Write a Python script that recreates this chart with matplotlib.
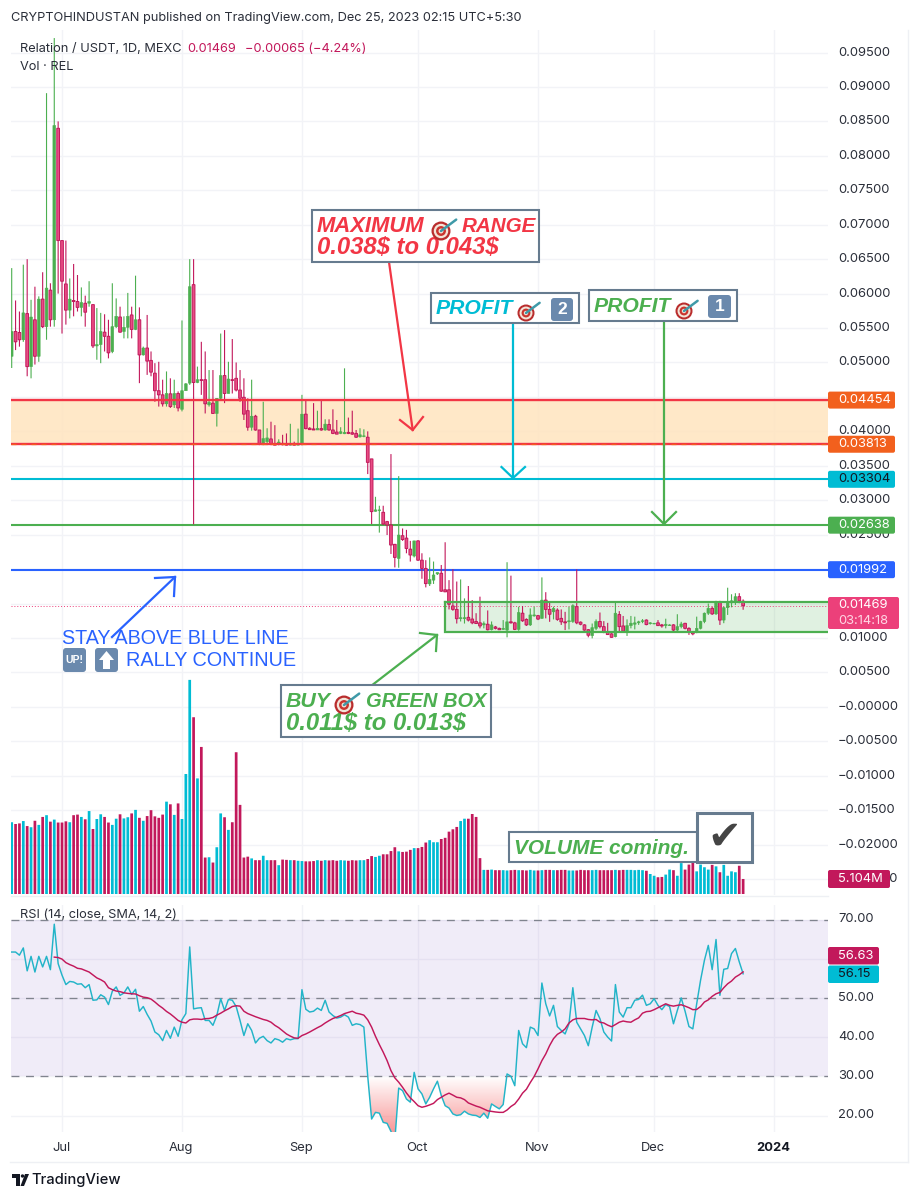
import numpy as np
import matplotlib
matplotlib.use("Agg")
import matplotlib.pyplot as plt
from matplotlib.patches import Rectangle, FancyBboxPatch, Circle, Polygon, PathPatch
from matplotlib.path import Path

# ---------- data (prices in thousandths of a USDT, index 0 = 18 Jun 2023) ----------
opens = [50.9,54.5,54.35,53.3,57.1,49.4,56.2,50.9,59.2,55.2,
 60.5,56.2,84.0,67.7,61.4,57.6,59.0,58.85,58.0,58.6,
 58.6,58.4,52.4,52.6,54.4,53.8,51.6,55.2,56.6,54.5,
 55.1,56.9,54.8,56.2,51.1,52.1,50.3,48.45,45.9,45.3,
 44.0,45.45,43.85,45.5,43.2,45.9,47.0,61.3,47.1,47.5,
 47.5,43.85,44.1,42.6,44.8,48.1,45.5,47.5,47.7,46.0,
 44.95,43.0,40.6,42.2,40.2,38.2,38.5,38.9,38.2,38.07,
 38.25,38.17,38.0,38.17,38.0,38.1,42.5,40.45,40.35,40.2,
 40.4,40.2,41.0,40.2,39.9,39.7,39.65,39.85,39.8,39.7,
 39.2,39.25,39.15,36.0,28.4,28.5,28.25,26.9,26.4,23.6,
 21.55,24.85,24.5,22.9,21.9,24.1,21.3,20.1,17.85,18.4,
 19.3,19.4,17.0,17.0,14.65,14.15,12.8,12.8,13.0,12.75,
 12.4,12.2,11.9,12.0,11.2,11.6,11.4,11.25,11.15,12.35,
 12.2,11.25,13.6,12.7,11.9,13.2,13.25,12.85,15.5,14.15,
 13.8,14.05,12.85,12.35,12.35,12.4,14.55,12.3,11.9,11.2,
 10.35,11.4,12.4,11.65,10.8,10.6,10.2,13.4,11.75,11.0,
 11.8,12.0,12.2,12.4,12.6,12.08,12.04,12.2,11.9,11.8,
 11.8,11.9,11.15,11.65,12.13,11.4,10.8,10.8,11.4,12.4,
 13.6,14.3,13.5,15.3,12.6,14.4,15.1,15.3,16.0,15.34]
highs = [63.7,59.0,57.4,64.2,65.0,59.1,61.0,59.6,63.1,89.1,
 61.5,97.1,85.0,67.7,67.7,62.2,64.3,62.7,60.9,59.7,
 61.8,58.4,57.9,57.2,57.0,56.2,61.5,59.3,58.1,56.7,
 60.1,58.1,62.6,58.0,52.3,56.9,51.6,49.9,50.1,47.5,
 48.7,47.7,47.5,45.8,56.1,47.0,65.0,65.0,49.4,53.0,
 51.6,48.9,48.9,44.8,54.2,54.7,50.1,53.4,50.0,48.9,
 47.7,44.8,47.5,42.4,40.2,44.3,40.45,41.4,40.9,38.85,
 39.5,39.7,41.1,38.5,40.4,45.3,44.6,40.6,44.1,43.0,
 44.6,41.75,41.75,43.2,41.65,40.6,49.15,42.0,43.0,40.2,
 40.45,40.3,40.0,36.0,30.5,29.2,29.2,27.0,36.7,23.65,
 33.5,25.9,25.7,24.1,24.1,24.2,22.3,21.3,21.7,21.1,
 19.5,20.6,23.9,18.4,20.0,18.2,18.5,15.75,17.55,15.5,
 13.6,16.0,12.4,14.0,12.4,11.75,11.5,12.6,21.0,19.05,
 12.35,14.55,14.65,12.85,14.3,14.55,13.35,18.8,16.65,15.25,
 14.55,14.3,14.15,13.8,14.55,14.9,19.97,12.4,12.0,11.3,
 12.1,12.7,13.7,12.45,12.2,10.7,15.1,13.9,13.2,12.7,
 13.2,13.1,12.5,12.75,12.7,12.3,12.2,12.6,12.04,12.8,
 12.0,12.0,13.45,12.35,12.2,11.55,10.9,13.1,12.5,13.7,
 15.0,14.55,15.4,15.4,14.55,17.3,16.35,16.5,16.5,15.6]
lows = [49.2,51.8,52.3,53.0,48.0,47.7,49.7,50.1,55.0,53.3,
 55.2,55.2,60.0,54.2,55.5,56.4,56.7,57.4,56.7,55.2,
 58.1,52.1,50.4,49.9,51.6,50.6,51.35,55.0,54.35,53.5,
 53.5,53.5,54.7,47.0,51.0,48.2,48.0,44.3,43.6,43.6,
 43.6,43.4,43.4,42.9,42.9,45.9,46.75,26.5,47.0,45.3,
 42.6,43.6,42.6,40.7,44.6,44.1,45.5,45.5,45.8,44.3,
 41.65,40.1,40.1,40.1,38.0,38.0,38.0,38.0,38.0,37.97,
 37.97,37.97,37.97,37.97,37.97,37.97,40.3,40.2,40.2,40.2,
 40.1,40.1,40.1,39.6,39.6,39.6,39.6,39.6,39.5,39.05,
 39.1,39.15,33.8,26.55,28.35,25.3,26.4,24.95,22.2,20.25,
 20.2,24.1,22.3,21.1,21.7,21.2,18.6,17.35,17.55,17.85,
 19.15,16.7,16.7,14.15,13.95,12.1,12.4,12.1,12.4,12.0,
 12.1,11.4,11.4,11.1,11.1,11.25,11.2,11.2,10.1,12.1,
 11.15,11.05,12.35,11.75,11.75,13.1,12.6,12.8,12.85,12.35,
 12.7,12.5,11.9,11.15,11.25,12.2,12.0,11.85,11.05,10.1,
 9.95,11.15,11.4,10.7,10.45,10.05,10.1,10.9,10.9,10.3,
 11.4,11.25,11.9,12.15,11.85,11.95,12.0,11.75,11.5,11.4,
 11.75,11.0,11.0,11.4,11.25,10.45,10.4,10.7,11.25,12.15,
 13.35,13.35,13.35,11.9,12.15,13.35,14.45,14.8,15.05,14.1]
closes = [54.5,53.0,53.3,57.2,49.4,56.6,50.9,59.2,55.2,60.8,
 56.2,84.4,67.7,61.8,57.6,59.2,58.85,58.0,58.7,57.3,
 58.85,52.4,52.6,54.5,53.8,51.4,55.2,56.7,54.4,55.1,
 56.7,54.8,56.2,51.1,52.1,50.2,48.6,45.9,45.3,44.0,
 45.5,43.6,45.5,43.4,45.9,46.9,61.0,47.1,47.5,47.4,
 44.0,44.2,42.6,44.8,48.1,45.5,47.6,47.4,46.0,44.8,
 42.5,40.6,42.2,40.2,38.1,38.95,39.05,38.1,38.0,38.45,
 38.07,38.0,38.1,38.0,38.17,42.5,40.4,40.25,40.2,40.45,
 40.2,41.05,40.2,39.7,39.6,39.95,39.85,39.7,39.6,39.15,
 39.5,39.35,35.5,28.35,28.6,28.6,26.55,26.4,23.5,21.7,
 24.95,24.3,23.0,22.05,24.1,21.3,20.1,17.9,18.5,19.15,
 19.5,16.8,16.7,14.9,14.15,12.8,12.95,12.95,12.6,12.2,
 12.1,11.75,12.1,11.2,11.9,11.4,11.2,11.4,12.35,12.2,
 11.25,13.7,12.5,11.9,13.35,13.35,12.75,15.5,14.15,13.45,
 14.3,12.7,12.35,12.2,12.5,14.7,12.2,12.0,11.15,10.4,
 11.5,12.4,11.65,10.8,10.5,10.1,13.6,11.65,11.0,11.8,
 12.15,12.2,12.35,12.5,11.95,12.2,12.13,11.8,11.75,12.0,
 11.9,11.15,11.65,12.04,11.4,10.8,10.6,11.4,12.4,13.6,
 14.3,13.5,15.3,12.6,14.4,15.3,15.4,16.0,15.4,14.69]
volume_m = [24.4,23.8,24.0,24.8,23.1,22.7,24.9,23.5,26.2,26.8,
 24.6,25.3,24.3,24.3,24.7,24.4,26.8,27.0,26.2,25.4,
 28.2,22.1,25.5,27.1,26.2,24.3,23.5,25.6,27.1,25.7,
 26.1,27.4,28.6,25.9,24.9,26.5,28.5,26.4,25.9,27.0,
 31.4,30.5,26.9,30.8,25.5,40.8,72.8,60.1,39.3,50.0,
 12.4,12.5,10.7,15.9,27.4,26.1,21.8,24.4,48.2,30.3,
 12.4,12.7,12.1,11.5,11.5,13.0,11.5,11.5,11.5,9.8,
 11.7,11.6,11.5,11.5,11.3,11.2,11.1,11.1,11.2,11.5,
 11.3,11.5,11.4,11.5,11.3,11.5,11.4,11.3,11.5,11.4,
 11.5,11.5,11.9,12.9,12.6,13.0,13.5,13.5,14.6,15.9,
 14.5,14.3,14.4,15.0,15.6,15.6,16.0,17.5,18.3,17.6,
 17.6,18.7,19.1,21.2,22.0,22.8,24.8,25.6,25.6,27.2,
 26.2,12.2,8.2,8.2,8.3,8.1,8.1,8.1,8.0,8.1,
 8.2,8.1,8.1,8.0,8.2,8.0,8.0,8.1,8.2,8.2,
 8.1,8.1,8.2,8.2,8.0,8.0,8.0,8.2,8.1,8.1,
 8.1,8.2,8.1,8.1,8.1,8.1,8.2,8.1,8.2,8.2,
 8.2,8.1,8.2,8.1,7.9,6.8,6.2,5.7,5.8,6.6,
 8.3,8.1,6.2,10.5,8.3,10.0,10.8,7.7,10.0,9.1,
 8.3,9.9,9.4,7.4,9.9,6.2,7.7,7.4,9.6,5.104]
rsi = [61.7,61.7,60.9,62.75,56.9,60.6,56.6,60.6,57.9,60.6,
 57.2,68.8,58.75,55.8,53.4,54.2,54.05,53.5,53.6,52.6,
 53.4,49.4,49.5,50.8,50.2,48.3,51.7,52.8,50.65,51.25,
 52.8,50.9,52.2,46.6,47.8,45.8,44.1,41.3,40.6,39.1,
 41.7,39.7,42.55,40.2,44.4,46.0,63.0,47.2,47.4,47.5,
 44.25,44.25,43.0,45.5,49.8,46.8,49.6,49.4,47.8,44.25,
 40.4,43.4,41.7,38.5,39.7,40.2,39.1,38.5,39.6,39.3,
 38.7,39.6,39.3,39.6,39.6,52.1,47.1,46.4,46.6,47.4,
 46.8,49.4,46.4,45.5,44.85,45.1,45.7,45.1,43.0,43.4,
 43.2,42.55,30.0,19.1,20.8,20.6,18.25,18.0,15.95,13.6,
 27.0,26.35,24.2,23.4,31.0,26.8,25.5,22.95,24.65,26.8,
 28.75,25.1,22.5,21.9,20.4,20.0,20.2,21.1,20.4,20.1,
 20.0,19.5,20.6,19.3,22.95,22.3,21.7,22.8,30.6,30.0,
 27.6,41.7,38.3,37.3,42.55,42.1,40.4,53.8,48.5,45.4,
 48.1,42.7,41.7,40.8,43.4,52.6,43.8,42.1,40.4,37.8,
 42.55,46.8,44.7,41.3,40.0,39.0,53.4,46.4,45.1,47.5,
 47.5,49.4,49.6,50.7,48.1,48.5,49.8,48.1,47.0,48.3,
 47.8,43.4,46.8,50.0,46.6,42.7,42.1,48.5,54.5,59.6,
 63.4,57.2,64.9,50.65,57.3,57.5,61.3,62.6,59.2,56.15]
rsi_ma = [60.4,60.3,59.9,59.0,58.5,58.1,57.55,57.4,57.0,56.6,
 55.85,55.1,54.65,54.05,52.6,52.1,51.75,51.6,51.3,51.15,
 51.05,51.0,50.55,50.2,50.05,49.7,48.95,48.1,47.4,46.55,
 45.9,45.1,44.25,43.8,43.6,44.4,44.6,44.6,44.5,44.7,
 44.75,45.0,45.6,46.1,46.7,47.2,47.8,48.0,47.9,46.6,
 46.0,45.6,45.2,44.85,44.5,44.25,43.8,43.0,42.4,41.6,
 40.8,40.25,39.8,39.7,40.4,40.8,41.3,41.85,42.4,42.9,
 43.6,44.2,44.75,45.1,45.5,46.0,46.3,46.6,46.1,45.9,
 45.6,44.4,42.55,40.2,38.1,36.15,34.0,31.45,29.6,28.5,
 27.2,25.75,24.5,23.55,22.5,22.1,22.35,22.7,23.1,24.05,
 24.65,25.25,25.7,25.2,24.65,24.5,
 24.05,23.2,22.8,22.4,22.1,21.65,21.2,21.05,20.9,20.8,
 20.8,21.4,22.3,22.95,24.2,25.7,26.7,28.4,29.95,31.9,
 34.0,35.7,37.85,39.6,40.7,41.3,42.1,43.6,44.4,44.75,
 44.75,44.75,44.5,44.4,44.5,43.8,43.6,43.05,42.65,43.2,
 43.8,44.1,43.9,43.8,44.4,44.9,46.1,46.5,46.6,47.0,
 47.5,48.0,48.5,48.1,47.9,48.1,48.25,47.9,47.5,47.0,
 47.05,47.8,48.95,49.5,50.4,51.05,51.4,52.6,53.6,54.3,
 55.3,55.9,56.63]

month_labels = ["Jul","Aug","Sep","Oct","Nov","Dec","2024"]
month_index = [13,44,75,105,136,166,197]
price_ticks = [95,90,85,80,75,70,65,60,55,50,45,40,35,30,25,20,15,10,5,0,-5,-10,-15,-20,-25]
price_labels_hidden = [45,20,15]     # these sit fully behind a price badge in the reference
rsi_ticks = [70,60,50,40,30,20]
rsi_labels_hidden = [60]
level_resist_hi, level_resist_lo = 44.54, 38.13
level_tp2, level_tp1, level_blue = 33.04, 26.38, 19.92
box_top, box_bottom = 15.2, 10.87
last_price = 14.69

assert all(len(a)==190 for a in (opens,highs,lows,closes,volume_m,rsi)), [len(a) for a in (opens,highs,lows,closes,volume_m,rsi)]

# ---------- layout ----------
W,H = 919,1200
SANS = ["Inter","DejaVu Sans"]
plt.rcParams["font.family"] = SANS
fig = plt.figure(figsize=(W/100,H/100),dpi=100,facecolor="white")
L,R = 11,828
PT,PB = 30,895
RT,RB = 905,1132
def axes_px(t,b):
    return fig.add_axes([L/W,1-b/H,(R-L)/W,(b-t)/H])
GRID="#f2f3f7"; DARK="#131722"
UPC="#4caf50"; DNE="#c2185b"; DNF="#e84d84"; CY="#00bcd4"; MAG="#c2185b"
BLUE="#2962ff"; RED="#f23645"; ORG="#f2601d"
x = np.arange(190)
xlim = ((L-11.7)/3.87,(R-11.7)/3.87)
PX_PER_MILLI = 6888/1000.
def py(p): return 638+(10-p)*PX_PER_MILLI
def unsnap(container):
    for p in container: p.set_snap(False)

# price pane
ax = axes_px(PT,PB)
ax.set_xlim(*xlim)
ax.set_ylim(10+(638-PB)/PX_PER_MILLI,10+(638-PT)/PX_PER_MILLI)
ax.axis("off")
for t in price_ticks: ax.axhline(t,color=GRID,lw=1,zorder=0)
for m in month_index: ax.axvline(m,color=GRID,lw=1,zorder=0)
ax.axhspan(level_resist_lo,level_resist_hi,color="#ffe4bf",alpha=.85,lw=0,zorder=1)
ax.add_patch(Rectangle((111.9,box_bottom),xlim[1]-111.9,box_top-box_bottom,fc="#4caf50",alpha=.17,lw=0,zorder=1))
o,h,l,c = map(np.array,(opens,highs,lows,closes))
up = c>=o
ax.vlines(x[up],l[up],h[up],color=UPC,lw=.8,zorder=3).set_snap(False)
ax.vlines(x[~up],l[~up],h[~up],color=DNE,lw=.8,zorder=3).set_snap(False)
unsnap(ax.bar(x[up],(c-o)[up],bottom=o[up],width=.7,color=UPC,edgecolor=UPC,lw=.4,zorder=4))
unsnap(ax.bar(x[~up],(o-c)[~up],bottom=c[~up],width=.7,color=DNF,edgecolor=DNE,lw=.7,zorder=4))
ax.axhline(level_resist_hi,color=RED,lw=1.7,zorder=5)
ax.axhline(level_resist_lo,color=RED,lw=1.7,zorder=5)
ax.axhline(level_resist_lo+.08,color=ORG,lw=.9,ls=(0,(4,4)),zorder=5)
ax.axhline(level_tp2,color=CY,lw=1.5,zorder=2)
ax.axhline(level_tp1,color=UPC,lw=1.5,zorder=2)
ax.axhline(level_blue,color=BLUE,lw=1.5,zorder=2)
ax.axhline(last_price,color="#ec407a",lw=.7,ls=(0,(1,2)),zorder=2)
ax.plot([111.9,111.9,xlim[1]],[box_top,box_bottom,box_bottom],color=UPC,lw=1.6,zorder=5,solid_joinstyle="miter")
ax.plot([111.9,xlim[1]],[box_top,box_top],color=UPC,lw=1.6,zorder=5)

# volume pane (same rectangle)
av = axes_px(PT,PB); av.patch.set_alpha(0); av.axis("off")
av.set_xlim(*xlim)
PX_PER_M = 1/0.34
av.set_ylim(-1/PX_PER_M,(PB-PT-1)/PX_PER_M)
vol = np.array(volume_m)
unsnap(av.bar(x[up],vol[up],width=.7,color=CY,lw=0))
unsnap(av.bar(x[~up],vol[~up],width=.7,color=MAG,lw=0))

# RSI pane
ar = axes_px(RT,RB)
ar.set_xlim(*xlim)
ar.set_ylim(20-(RB-1115.5)/3.92,20+(1115.5-RT)/3.92)
ar.axis("off")
for m in month_index: ar.axvline(m,color=GRID,lw=1,zorder=0)
for t in rsi_ticks: ar.axhline(t,color=GRID,lw=1,zorder=0)
ar.axhspan(30,70,color="#7e57c2",alpha=.11,lw=0,zorder=1)
for t in (70,50,30):
    ar.axhline(t,color="#80848e",lw=.95,ls=(0,(6,5)),zorder=2)
rv = np.array(rsi)
poly = ar.fill_between(x,rv,30,where=rv<30,interpolate=True,facecolor="none",lw=0)
grad = np.zeros((64,2,4))
grad[...,:3] = matplotlib.colors.to_rgb("#f77f7f")
grad[...,3] = np.linspace(0,.8,64)[:,None]
yl = ar.get_ylim()
im = ar.imshow(grad,extent=(xlim[0],xlim[1],yl[0],30),origin="upper",aspect="auto",zorder=2)
im.set_clip_path(PathPatch(Path.make_compound_path(*poly.get_paths()),transform=ar.transData))
ar.set_xlim(*xlim); ar.set_ylim(*yl)
ar.plot(x,rv,color="#22b4c8",lw=1.05,zorder=4)
ma = np.array(rsi_ma)
ar.plot(np.arange(190-len(ma),190),ma,color=MAG,lw=1.05,zorder=5)

# overlay in pixels for labels, callouts and badges
ov = fig.add_axes([0,0,1,1],facecolor="none")
ov.set_xlim(0,W); ov.set_ylim(H,0); ov.axis("off")

def rrect(x0,y0,x1,y1,fc,ec="none",lw=0,r=2,z=10):
    ov.add_patch(FancyBboxPatch((x0,y0),x1-x0,y1-y0,boxstyle=f"round,pad=0,rounding_size={r}",fc=fc,ec=ec,lw=lw,zorder=z))
def txt(x_,y_,s,size=10,color=DARK,ha="left",va="center",z=11,**k):
    return ov.text(x_,y_,s,fontsize=size,color=color,ha=ha,va=va,zorder=z,parse_math=False,**k)

# frame
FR="#eef0f4"
ov.plot([908,908],[30,1162],color=FR,lw=1,zorder=1)
ov.plot([10,908],[1162,1162],color=FR,lw=1,zorder=1)
ov.plot([11,828],[896,896],color=FR,lw=1,zorder=1)

# header & footer
TS=9.2
txt(11,18.5,"CRYPTOHINDUSTAN published on TradingView.com, Dec 25, 2023 02:15 UTC+5:30",size=TS,color="#2a2e39")
txt(20,48.5,"Relation / USDT, 1D, MEXC",size=TS,color="#2a2e39")
txt(187,48.5,"0.01469",size=TS,color=MAG)
txt(245,48.5,"\u22120.00065 (\u22124.24%)",size=TS,color=MAG)
txt(20,66.5,"Vol \u00b7 REL",size=TS,color="#2a2e39")
txt(20,915,"RSI (14, close, SMA, 14, 2)",size=TS,color="#2a2e39")
# TradingView logo
ov.add_patch(Polygon([(12,1174),(20,1174),(20,1186),(16,1186),(16,1178),(12,1178)],fc=DARK,zorder=11))
ov.add_patch(Circle((22.5,1176),1.7,fc=DARK,zorder=11))
ov.add_patch(Polygon([(25,1174),(29,1174),(24,1186),(20.5,1186)],fc=DARK,zorder=11))
txt(31,1180,"TradingView",size=10.6,color=DARK,weight="medium")

# axis labels
AS=9.3
for t in price_ticks:
    if t in price_labels_hidden: continue
    s = ("\u2212" if t<=0 else "")+f"{abs(t)/1000:.5f}"
    txt(838,py(t),s,size=AS,color="#2a2e39",z=3)
for t in rsi_ticks:
    if t in rsi_labels_hidden: continue
    txt(838,1115.5-(t-20)*3.92,f"{t}.00",size=AS,color="#2a2e39",z=3)
for m,lbl in zip(month_index,month_labels):
    txt(11.7+3.87*m-1,1148,lbl,size=AS,color="#2a2e39" if lbl!="2024" else DARK,ha="center",weight="bold" if lbl=="2024" else "normal")

# badges
for val,col,tc in [(level_resist_hi,ORG,"white"),(level_resist_lo,ORG,"white"),(level_tp2,CY,DARK),(level_tp1,UPC,"white"),(level_blue,BLUE,"white")]:
    yy = py(val)
    rrect(828,yy-8.5,895,yy+8.5,col)
    txt(838,yy,f"{val/1000:.5f}",size=AS,color=tc)
rrect(828,597,899,629,"#ec407a")
txt(838,604.5,"0.01469",size=AS,color="white")
txt(838,620.5,"03:14:18",size=AS,color="#ffd6e4")
rrect(828,870,890,888,MAG)
txt(838,879,"5.104M",size=AS,color="white")
rrect(828,947,879,964.5,MAG)
txt(838,955.7,"56.63",size=AS,color="white")
rrect(828,965.5,879,983,CY)
txt(838,974,"56.15",size=AS,color=DARK)

# emoji-like pictograms
def target(cx,cy,r,z=13):
    for rr,col in zip((1,.76,.52,.26),("#b92d2d","#f4e4d8","#c9352f","#f4e4d8")):
        ov.add_patch(Circle((cx,cy),r*rr,fc=col,ec="none",zorder=z))
    ov.plot([cx,cx+r*1.6],[cy,cy-r*1.2],color="#3f9aa8",lw=1.8,zorder=z+1,solid_capstyle="round")
def keycap(x0,y0,x1,y1,s,size=12.5,**k):
    rrect(x0,y0,x1,y1,"#6a89ad",r=3,z=13)
    txt((x0+x1)/2,(y0+y1)/2,s,size=size,color="white",ha="center",z=14,family="Liberation Sans",weight="bold",**k)

BOXE="#667b8f"
ITAL = dict(family="Liberation Sans",style="italic",weight="bold")
def callout(x0,y0,x1,y1,lw=1.5,z=10):
    ov.add_patch(Rectangle((x0,y0),x1-x0,y1-y0,fc="white",ec=BOXE,lw=lw,zorder=z))

# arrows
def arrow(pts,wings,col,lw=1.6):
    ov.plot([p[0] for p in pts],[p[1] for p in pts],color=col,lw=lw,zorder=9)
    ov.plot([wings[0][0],pts[-1][0],wings[1][0]],[wings[0][1],pts[-1][1],wings[1][1]],color=col,lw=lw,zorder=9,solid_joinstyle="miter")
arrow([(389,262),(412.7,430)],[(400,420),(423,417)],RED)
arrow([(513,323),(513,478)],[(501.5,467),(525,467)],CY)
arrow([(664,321),(664,524)],[(652,512),(676,512)],UPC)
arrow([(112,637),(175,577)],[(155,578),(174,596)],BLUE)
arrow([(371,686),(437,635)],[(420,633),(436,651)],UPC)

# callouts
callout(312,210,539,262)
txt(317,226.5,"MAXIMUM",size=15.8,color=RED,**ITAL)
target(441,231,9.5)
txt(462,226.5,"RANGE",size=14.9,color=RED,**ITAL)
txt(317,248,"0.038$ to 0.043$",size=17.2,color=RED,**ITAL)

callout(431,293,579,323)
txt(436,309,"PROFIT",size=15.2,color=CY,**ITAL)
target(526,313,8.5)
keycap(551,298,573,321,"2")

callout(589,290,737,321)
txt(594,306.5,"PROFIT",size=15.2,color=UPC,**ITAL)
target(684,311,8.5)
keycap(708,295,731,318,"1")

callout(281,685,491,737)
txt(286,701.5,"BUY",size=15.4,color=UPC,**ITAL)
target(344,705,9.5)
txt(366,701.5,"GREEN BOX",size=14.5,color=UPC,**ITAL)
txt(286,723,"0.011$ to 0.013$",size=17.2,color=UPC,**ITAL)

callout(509,832,697,862)
txt(514,848,"VOLUME coming.",size=15,color=UPC,**ITAL)
callout(697,813,752,862,lw=2.2)
txt(724.5,837.5,"\u2714",size=29,color="#444444",ha="center",family="DejaVu Sans",z=12)

# blue comment
BL = dict(family="Liberation Sans")
txt(62,638.5,"STAY ABOVE BLUE LINE",size=14.25,color=BLUE,**BL)
keycap(63,648,86,672,"UP!",size=7.5)
rrect(95,648,118,672,"#6a89ad",r=3,z=13)
ov.add_patch(Polygon([(106.5,651),(114,660),(110,660),(110,669),(103,669),(103,660),(99,660)],fc="white",zorder=14))
txt(126,660.5,"RALLY CONTINUE",size=14.35,color=BLUE,**BL)

fig.savefig("out.png",dpi=100,facecolor="white")
